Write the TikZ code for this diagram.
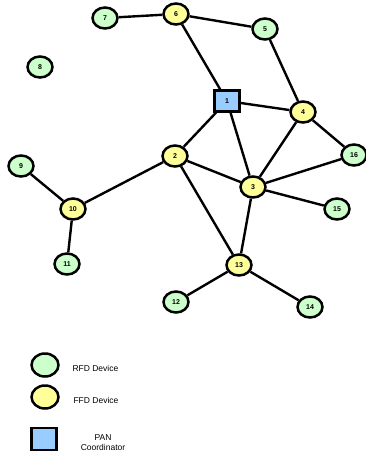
\documentclass[tikz,border=0pt]{standalone}
\usepackage{fontspec}
\setmainfont{Liberation Sans}
\usetikzlibrary{shapes.geometric}
\definecolor{rfd}{HTML}{CCFFCC}
\definecolor{ffd}{HTML}{FFFF99}
\definecolor{pan}{HTML}{99CCFF}
\begin{document}
\begin{tikzpicture}[x=1pt,y=-1pt,
  dev/.style={ellipse,draw=black,line width=2.5pt,minimum width=25pt,minimum height=21pt,inner sep=0pt,font=\bfseries\fontsize{7}{8}\selectfont},
  rfdnode/.style={dev,fill=rfd},
  ffdnode/.style={dev,fill=ffd},
  pannode/.style={rectangle,draw=black,line width=2.3pt,fill=pan,minimum width=25pt,minimum height=21pt,inner sep=0pt,font=\bfseries\fontsize{7}{8}\selectfont},
  link/.style={line width=2.4pt,draw=black},
  legtext/.style={font=\fontsize{8.5}{10}\selectfont,align=center}]
\useasboundingbox (0,0) rectangle (366,458);
\node[pannode] (n1) at (227,101) {1};
\node[ffdnode] (n2) at (175,156) {2};
\node[ffdnode] (n3) at (253,187) {3};
\node[ffdnode] (n4) at (303,112) {4};
\node[rfdnode] (n5) at (265,29) {5};
\node[ffdnode] (n6) at (176,14) {6};
\node[rfdnode] (n7) at (105,18) {7};
\node[rfdnode] (n8) at (40,67) {8};
\node[rfdnode] (n9) at (21,166) {9};
\node[ffdnode] (n10) at (73,209) {10};
\node[rfdnode] (n11) at (67,264) {11};
\node[rfdnode] (n12) at (176,302) {12};
\node[ffdnode] (n13) at (239,265) {13};
\node[rfdnode] (n14) at (310,307) {14};
\node[rfdnode] (n15) at (337,209) {15};
\node[rfdnode] (n16) at (354,155) {16};
\foreach \a/\b in {n7/n6,n6/n5,n6/n1,n5/n4,n1/n4,n1/n2,n1/n3,n4/n3,n4/n16,n2/n3,n2/n10,n2/n13,n3/n16,n3/n15,n3/n13,n9/n10,n10/n11,n13/n12,n13/n14}
  \draw[link] (\a) -- (\b);
% legend
\node[rfdnode,minimum width=27pt,minimum height=23pt] (lr) at (45,365) {};
\node[ffdnode,minimum width=27pt,minimum height=23pt] (lf) at (45,397) {};
\node[pannode,minimum width=25pt,minimum height=22pt,line width=2.6pt] (lp) at (44,439) {};
\node[legtext,anchor=west] (tr) at (69,368) {RFD Device};
\node[legtext,anchor=west] (tf) at (70,400) {FFD Device};
\node[legtext] (tp) at (103,443) {PAN\\Coordinator};
\end{tikzpicture}
\end{document}
